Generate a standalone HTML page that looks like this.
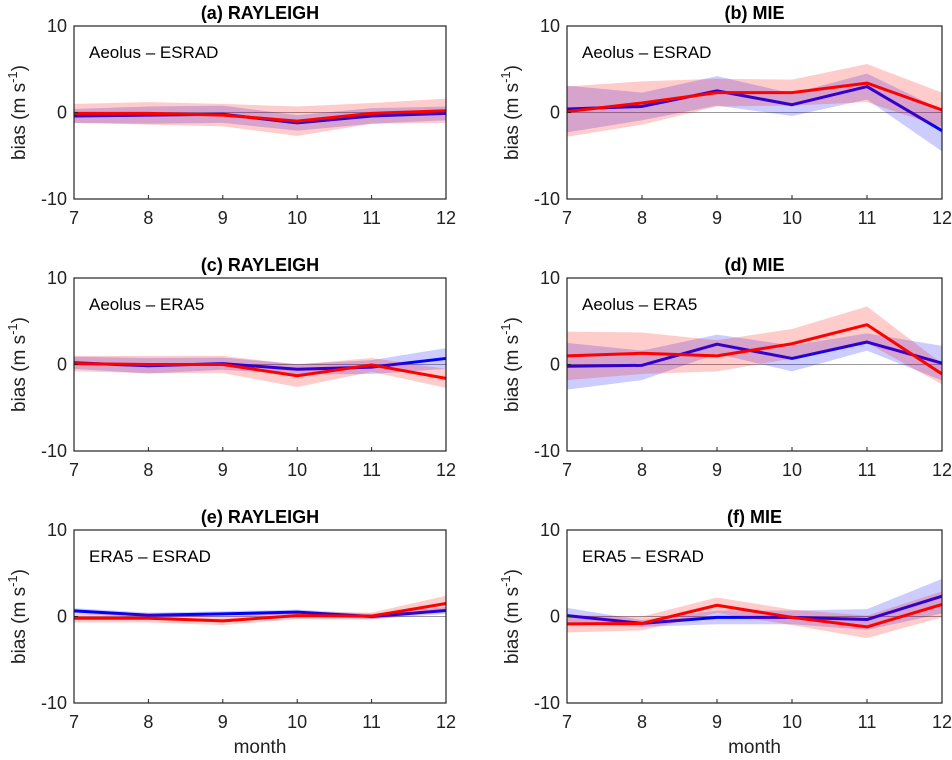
<!DOCTYPE html>
<html><head><meta charset="utf-8"><style>
body{margin:0;background:#fff;}
svg{display:block;font-family:"Liberation Sans",Arial,sans-serif;}
</style></head><body>
<svg id="fig" width="952" height="760" viewBox="0 0 952 760"></svg>
<script>
const months = [7, 8, 9, 10, 11, 12];
const yTicks = [-10, 0, 10];
const titles = ["(a) RAYLEIGH","(b) MIE","(c) RAYLEIGH","(d) MIE","(e) RAYLEIGH","(f) MIE"];
const labels = ["Aeolus \u2013 ESRAD","Aeolus \u2013 ESRAD","Aeolus \u2013 ERA5","Aeolus \u2013 ERA5","ERA5 \u2013 ESRAD","ERA5 \u2013 ESRAD"];
const blueMean = [
 [-0.4,-0.3,-0.2,-1.2,-0.4,-0.1],
 [0.4,0.7,2.5,0.9,3.0,-2.1],
 [0.2,-0.15,0.1,-0.55,-0.3,0.7],
 [-0.2,-0.1,2.35,0.7,2.6,0.15],
 [0.65,0.15,0.3,0.5,0.0,0.7],
 [0.1,-0.8,-0.1,-0.1,-0.35,2.35]];
const blueSpread = [
 [0.8,1.0,1.0,0.9,0.9,0.8],
 [2.7,1.6,1.7,1.3,1.5,2.4],
 [0.7,0.9,0.7,0.6,0.8,1.2],
 [2.7,1.7,1.1,1.5,1.0,2.0],
 [0.3,0.3,0.3,0.3,0.3,0.4],
 [0.9,0.4,0.8,0.8,1.2,2.0]];
const redMean = [
 [-0.1,-0.1,-0.3,-1.0,-0.1,0.2],
 [0.1,1.1,2.3,2.3,3.4,0.3],
 [0.1,0.0,0.0,-1.3,-0.05,-1.6],
 [1.0,1.3,1.0,2.4,4.6,-1.1],
 [-0.2,-0.2,-0.5,0.1,0.05,1.5],
 [-0.85,-0.8,1.3,-0.1,-1.2,1.4]];
const redSpread = [
 [1.1,1.3,1.3,1.7,1.2,1.4],
 [2.9,2.5,1.6,1.5,2.2,2.0],
 [0.9,1.0,1.0,1.3,0.8,1.1],
 [2.8,2.4,1.8,1.7,2.1,1.2],
 [0.5,0.5,0.5,0.4,0.4,0.9],
 [1.0,0.8,0.9,0.9,1.3,1.5]];

const NS="http://www.w3.org/2000/svg";
const svg=document.getElementById('fig');
function mk(tag,attrs,parent){const e=document.createElementNS(NS,tag);for(const k in attrs)e.setAttribute(k,attrs[k]);(parent||svg).appendChild(e);return e;}
const colX=[74,567], colW=[372,375], rowTop=[26,278,530], H=173;

for(let p=0;p<6;p++){
  const c=p%2, r=Math.floor(p/2);
  const x0=colX[c], w=colW[c], y0=rowTop[r];
  const xs=m=>x0+(m-7)/5*w;
  const ys=v=>y0+(10-v)/20*H;
  const g=mk('g',{});
  
  
  const z=mk('line',{x1:x0,x2:x0+w,y1:ys(0),y2:ys(0),stroke:'#777','stroke-width':0.8},g);
  
  const series=[[blueMean[p],blueSpread[p],'rgba(0,0,255,0.2)','#0000ff','blue'],[redMean[p],redSpread[p],'rgba(255,0,0,0.2)','#ff0000','red']];
  series.forEach(([mean,sp,fill,stroke,nm])=>{
    const up=months.map((m,i)=>xs(m)+','+ys(mean[i]+sp[i]));
    const lo=months.map((m,i)=>xs(m)+','+ys(mean[i]-sp[i])).reverse();
    const band=mk('polygon',{points:up.concat(lo).join(' '),fill:fill},g);
    
    const ln=mk('polyline',{points:months.map((m,i)=>xs(m)+','+ys(mean[i])).join(' '),fill:'none',stroke:stroke,'stroke-width':3,'stroke-linejoin':'round'},g);
    
  });
  const fr=mk('rect',{x:x0,y:y0,width:w,height:H,fill:'none',stroke:'#222','stroke-width':1.2},g);
  
  months.forEach(m=>{
    mk('line',{x1:xs(m),x2:xs(m),y1:y0+H,y2:y0+H-4,stroke:'#222'},g);
    const t=mk('text',{x:xs(m),y:y0+H+25,'text-anchor':'middle','font-size':18,fill:'#222'},g);
    t.textContent=m;
    
  });
  yTicks.forEach(v=>{
    mk('line',{x1:x0,x2:x0+4,y1:ys(v),y2:ys(v),stroke:'#222'},g);
    const t=mk('text',{x:x0-7,y:ys(v)+6,'text-anchor':'end','font-size':18,fill:'#222'},g);
    t.textContent=v;
    
  });
  const tt=mk('text',{x:x0+w/2,y:y0-7,'text-anchor':'middle','font-size':18,'font-weight':'bold',fill:'#000'},g);
  tt.textContent=titles[p];
  
  const lb=mk('text',{x:x0+15,y:y0+32,'font-size':17,fill:'#000'},g);
  lb.textContent=labels[p];
  
  const yl=mk('text',{transform:'translate('+(x0-49)+','+(y0+H/2)+') rotate(-90)','text-anchor':'middle','font-size':19,fill:'#222'},g);
  yl.innerHTML='bias (m s<tspan dy="-8" font-size="13">-1</tspan><tspan dy="8">)</tspan>';
  
  if(r===2){
    const xl=mk('text',{x:x0+w/2,y:y0+H+50,'text-anchor':'middle','font-size':19,fill:'#222'},g);
    xl.textContent='month';
    
  }
}
</script>
</body></html>
